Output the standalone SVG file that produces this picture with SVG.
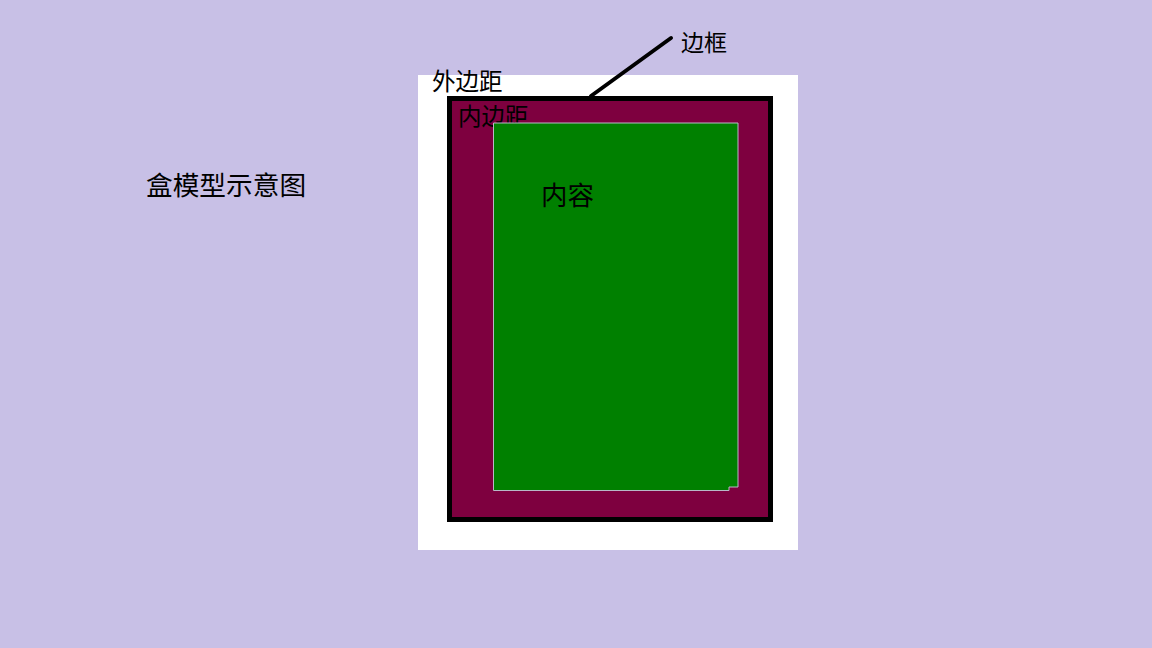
<svg xmlns="http://www.w3.org/2000/svg" width="1152" height="648" viewBox="0 0 1152 648">
<style>
text{font-family:"Noto Sans CJK SC","Noto Sans",sans-serif;fill:#000}
</style>
<rect x="0" y="0" width="1152" height="648" fill="#c8c0e6"/>
<g id="title"><text x="146" y="195" font-size="26.7">盒模型示意图</text></g>
<g id="margin">
<rect x="418" y="75" width="380" height="475" fill="#ffffff"/>
<text x="432" y="90" font-size="23.5">外边距</text>
</g>
<g id="border">
<rect x="449.5" y="98.5" width="321" height="421" fill="#7e003f" stroke="#000" stroke-width="5"/>
<text x="458" y="125" font-size="23.5">内边距</text>
</g>
<g id="content">
<path d="M493.5,123 L738,123 L738,487 L729,487 L729,490.5 L493.5,490.5 Z" fill="#008000" stroke="#b8b8c8" stroke-width="1"/>
<text x="541" y="205" font-size="26.5">内容</text>
</g>
<g id="connectors">
<line x1="591" y1="96" x2="671" y2="38" stroke="#000" stroke-width="4" stroke-linecap="round"/>
</g>
<g id="border-label"><text x="681" y="51" font-size="23">边框</text></g>
</svg>
